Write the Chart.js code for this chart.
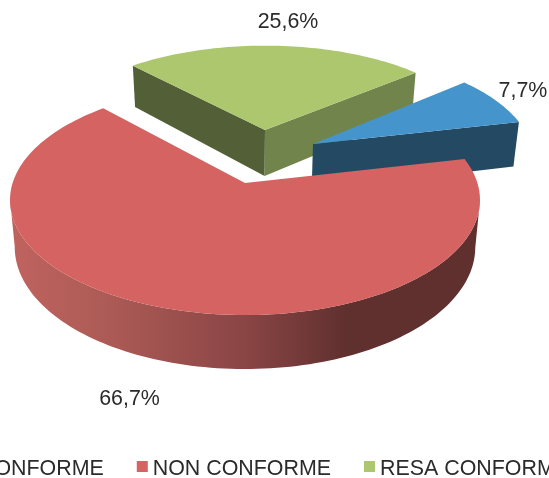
<!DOCTYPE html>
<html>
<head>
<meta charset="utf-8">
<script src="https://cdn.jsdelivr.net/npm/chart.js@4"></script>
<style>
    html, body { margin: 0; padding: 0; background: #fff; overflow: hidden; }
    canvas { display: block; }
</style>
</head>
<body>
<canvas id="pie" width="549" height="478"></canvas>
<script>
const categories = ['CONFORME', 'NON CONFORME', 'RESA CONFORME'];
const shares = [7.7, 66.7, 25.6];
const topColors = ['#4694cc', '#d46361', '#adc76e'];

// where each exploded slice sits on screen, with its own perspective
const sliceViews = [
    { cx: 313, cy: 144, rx: 218, ry: 104, persp: 0.15, labelX: 523, labelY: 91 },
    { cx: 245, cy: 183, rx: 232.4, ry: 112.5, persp: 0.148, labelX: 129.5, labelY: 399 },
    { cx: 265, cy: 130, rx: 217, ry: 97, persp: 0.15, labelX: 288, labelY: 22 }
];
const wallColors = ['#234a62', null, '#525f37'];
const wallDepth = 46;
const vanishX = 245;
const textColor = '#2b2b2b';
const fontFace = '21.4px "Liberation Sans", Arial, sans-serif';

function project(view, theta) {
    const X = Math.sin(theta);
    const Y = Math.cos(theta);
    const w = 1 + view.persp * Y;
    return { x: view.cx + view.rx * X / w, y: view.cy - view.ry * Y / w, w: w };
}

function lower(pt, w) {
    return { x: pt.x + (vanishX - pt.x) * 0.02, y: pt.y + wallDepth / w };
}

function rimPoints(view, a0, a1) {
    const pts = [];
    const steps = Math.max(8, Math.ceil((a1 - a0) * 40));
    for (let i = 0; i <= steps; i++) {
        pts.push(project(view, a0 + (a1 - a0) * i / steps));
    }
    return pts;
}

function fillPoly(ctx, pts, color) {
    ctx.beginPath();
    pts.forEach((p, i) => i ? ctx.lineTo(p.x, p.y) : ctx.moveTo(p.x, p.y));
    ctx.closePath();
    ctx.fillStyle = color;
    ctx.fill();
}

function cutWall(ctx, view, theta, color) {
    const apex = { x: view.cx, y: view.cy };
    const rim = project(view, theta);
    fillPoly(ctx, [apex, rim, lower(rim, rim.w), lower(apex, 1)], color);
}

function drawSlice(ctx, index, arc) {
    const view = sliceViews[index];
    // chart.js angles start at 3 o'clock, the projection starts at 12
    const a0 = arc.startAngle + Math.PI / 2;
    const a1 = arc.endAngle + Math.PI / 2;
    const rim = rimPoints(view, a0, a1);

    if (index === 1) {
        // round outer wall of the big slice, only the part between the side extremes
        const xs = rim.map(p => p.x);
        const right = xs.indexOf(Math.max(...xs));
        const left = xs.indexOf(Math.min(...xs));
        const front = rim.slice(right, left + 1);
        const bottom = front.map(p => lower(p, p.w)).reverse();
        const grad = ctx.createLinearGradient(10, 0, 480, 0);
        grad.addColorStop(0, '#c0635f');
        grad.addColorStop(0.2, '#ad5b56');
        grad.addColorStop(0.5, '#8a4545');
        grad.addColorStop(0.72, '#5f302e');
        grad.addColorStop(1, '#5f302e');
        fillPoly(ctx, front.concat(bottom), grad);
    } else if (index === 0) {
        cutWall(ctx, view, a1, wallColors[0]);
    } else {
        cutWall(ctx, view, a0, wallColors[2]);
        cutWall(ctx, view, a1, '#71844b');
    }
    fillPoly(ctx, [{ x: view.cx, y: view.cy }].concat(rim), arc.options.backgroundColor);
}

const pie3d = {
    id: 'pie3d',
    beforeDatasetsDraw(chart) {
        const ctx = chart.ctx;
        const arcs = chart.getDatasetMeta(0).data;
        ctx.save();
        // back to front: green, blue, red
        [2, 0, 1].forEach(i => drawSlice(ctx, i, arcs[i]));

        ctx.font = fontFace;
        ctx.fillStyle = textColor;
        ctx.textAlign = 'center';
        ctx.textBaseline = 'middle';
        shares.forEach((v, i) => {
            const text = v.toFixed(1).replace('.', ',') + '%';
            ctx.fillText(text, sliceViews[i].labelX, sliceViews[i].labelY);
        });

        // legend runs off both sides of the picture, like the original
        ctx.textAlign = 'left';
        ctx.textBaseline = 'alphabetic';
        let x = -37;
        categories.forEach((name, i) => {
            ctx.fillStyle = topColors[i];
            ctx.fillRect(x, 461, 11, 11);
            ctx.fillStyle = textColor;
            ctx.fillText(name, x + 16, 475);
            x += 16 + ctx.measureText(name).width + 33;
        });
        ctx.restore();
        return false;
    },
    beforeDatasetDraw() {
        return false; // the flat pie is replaced by the drawing above
    }
};

new Chart(document.getElementById('pie'), {
    type: 'pie',
    data: {
        labels: categories,
        datasets: [{ data: shares, backgroundColor: topColors, borderWidth: 0 }]
    },
    options: {
        responsive: false,
        animation: false,
        rotation: 49.6,
        plugins: {
            legend: { display: false },
            tooltip: { enabled: false }
        }
    },
    plugins: [pie3d]
});
</script>
</body>
</html>
